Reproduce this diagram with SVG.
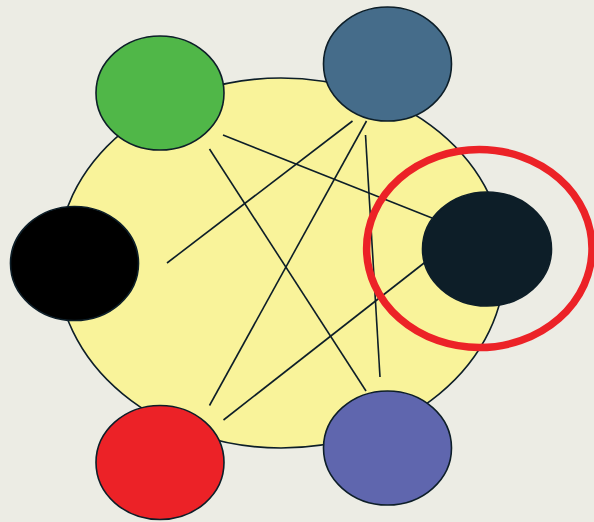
<svg xmlns="http://www.w3.org/2000/svg" width="594" height="522" viewBox="0 0 594 522">
<style>
.node{stroke:#0D1E28;stroke-width:1.6}
.conn line{stroke:#0D1E28;stroke-width:1.6;fill:none}
</style>
<rect width="594" height="522" fill="#ECECE4"/>
<g id="field"><ellipse cx="281" cy="263" rx="224" ry="185" fill="#F9F39A" stroke="#0D1E28" stroke-width="1.6"/></g>
<g id="connectors" class="conn">
<line x1="223" y1="135" x2="432" y2="218"/>
<line x1="209.5" y1="149" x2="366" y2="391"/>
<line x1="352.5" y1="121" x2="167" y2="263"/>
<line x1="366.5" y1="121" x2="209.5" y2="405.5"/>
<line x1="365.5" y1="135" x2="380" y2="377"/>
<line x1="426" y1="261.5" x2="223.5" y2="420"/>
</g>
<g id="node-green"><ellipse class="node" cx="160" cy="93" rx="64" ry="57" fill="#50B748"/></g>
<g id="node-blue"><ellipse class="node" cx="387.5" cy="64" rx="64" ry="57" fill="#456C8A"/></g>
<g id="node-black"><ellipse class="node" cx="74.5" cy="263.5" rx="64" ry="57" fill="#000000"/></g>
<g id="node-navy"><ellipse class="node" cx="487" cy="249" rx="64.5" ry="57" fill="#0D1E28"/></g>
<g id="node-red"><ellipse class="node" cx="160" cy="462.5" rx="64" ry="57" fill="#EC2227"/></g>
<g id="node-purple"><ellipse class="node" cx="387.5" cy="448" rx="64" ry="57" fill="#5F66AE"/></g>
<g id="highlight"><ellipse cx="479.3" cy="248.5" rx="112.7" ry="99" fill="none" stroke="#EC2227" stroke-width="7.5"/></g>
</svg>
